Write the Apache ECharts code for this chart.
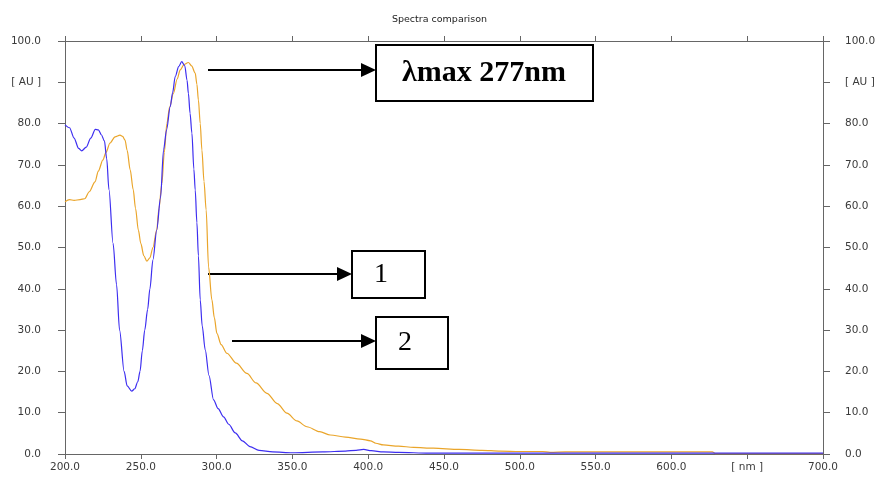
<!DOCTYPE html>
<html>
<head>
<meta charset="utf-8">
<script src="https://cdn.jsdelivr.net/npm/echarts@6/dist/echarts.min.js"></script>
<style>
  html, body { margin: 0; padding: 0; background: #fff; }
  #chart { width: 879px; height: 477px; }
</style>
</head>
<body>
<div id="chart"></div>
<script>
// Absorption spectra, wavelength [nm] vs absorbance [AU]
const blueNm = [200, 203, 206, 209, 211, 214, 217, 220, 222, 224, 226, 227.5, 229, 231.7, 234, 236, 239, 241, 244, 246, 248, 249.5, 251, 252.6, 254.5, 256, 258, 260.5, 263, 265, 267, 269.4, 271, 272.7, 275, 277, 279, 280.5, 281.4, 282.5, 283.7, 285, 285.9, 287, 288, 289.2, 290.5, 292.5, 295, 298, 301, 304.6, 308, 312.3, 317, 322, 328, 337, 350, 370, 385, 392, 397, 402, 410, 420, 440, 470, 500, 550, 600, 650, 700];
const blueAU = [79.7, 79.0, 76.5, 74.0, 73.4, 74.3, 76.5, 78.6, 78.5, 77.3, 75.8, 71.5, 64, 51, 41, 30, 20, 16.5, 15.2, 15.8, 17.5, 20, 25, 30, 35, 40, 47, 54.2, 62, 73.6, 78.5, 84.1, 87.5, 91.4, 93.8, 95.0, 94, 90.5, 87.3, 82.5, 77.7, 69, 63.9, 56, 48, 37.3, 31, 25.2, 19, 13.1, 11, 9.0, 7.2, 5.1, 3.2, 1.8, 0.9, 0.5, 0.3, 0.5, 0.7, 0.9, 1.1, 0.8, 0.5, 0.4, 0.2, 0.2, 0.2, 0.2, 0.2, 0.2, 0.2];

const orangeNm = [200, 203, 206, 210, 213, 216, 219.8, 222, 225, 227, 229.7, 233, 236.3, 238, 239.6, 241, 243, 245, 246.5, 248.4, 250, 252, 254, 256, 258, 260.5, 262, 263.9, 265.5, 267.2, 269, 271.5, 274, 276, 278.5, 281.4, 283.5, 285.9, 287, 288, 289.2, 290.3, 291.7, 293.1, 294.7, 296.9, 298.5, 300.2, 303, 306.8, 313, 320, 326, 333.2, 340, 346.4, 353, 359.6, 368, 375, 385, 395, 401.5, 405, 410, 420, 430, 443, 460, 475, 487, 500, 515, 520, 530, 560, 600, 627, 629, 700];
const orangeAU = [61.1, 61.6, 61.4, 61.6, 61.8, 63.5, 65.9, 68.5, 71.2, 73, 75.3, 76.8, 77.2, 76.9, 76, 73.5, 68.8, 64, 59.5, 54.2, 51, 48, 46.7, 47.5, 50, 54.2, 59.5, 65.5, 73, 80, 84, 87.3, 90.8, 93, 94.3, 94.8, 94, 92.2, 89.5, 85.7, 80, 73.6, 66, 59.1, 45.3, 37.3, 33, 29.2, 26.5, 24.4, 22, 19.5, 17.2, 14.7, 12.2, 9.9, 8, 6.6, 5.4, 4.6, 4.1, 3.6, 3.2, 2.6, 2.2, 1.9, 1.6, 1.4, 1.1, 0.9, 0.7, 0.6, 0.6, 0.4, 0.5, 0.5, 0.5, 0.5, 0.1, 0.1];

// Axis tick labels: unit captions replace one numeric tick on each axis
const xUnitTick = 650, xUnitLabel = '[ nm ]';
const yUnitTick = 90, yUnitLabel = '[ AU ]';

const chart = echarts.init(document.getElementById('chart'));
const axisColor = '#666';
const labelFont = { color: '#3a3a3a', fontFamily: 'DejaVu Sans', fontSize: 10.5 };

function pairs(xs, ys) { return xs.map((x, i) => [x, ys[i]]); }

function arrow(x1, x2, y) {
  return [
    { type: 'line', shape: { x1: x1, y1: y, x2: x2 - 12, y2: y }, style: { stroke: '#000', lineWidth: 2 } },
    { type: 'polygon', shape: { points: [[x2 - 15, y - 7], [x2, y], [x2 - 15, y + 7]] }, style: { fill: '#000' } }
  ];
}
function box(x, y, w, h) {
  return { type: 'rect', shape: { x: x, y: y, width: w, height: h }, style: { fill: '#fff', stroke: '#000', lineWidth: 2 } };
}

chart.setOption({
  animation: false,
  backgroundColor: '#fff',
  title: {
    text: 'Spectra comparison',
    left: 'center', top: 10,
    textStyle: { fontFamily: 'DejaVu Sans', fontSize: 9.5, fontWeight: 'normal', color: '#222' }
  },
  grid: { left: 65, right: 56, top: 41, bottom: 23 },
  xAxis: [
    {
      type: 'value', position: 'bottom', min: 200, max: 700, interval: 50,
      axisLine: { show: true, onZero: false, lineStyle: { color: axisColor, width: 1 } },
      axisTick: { show: true, length: 5, lineStyle: { color: axisColor } },
      axisLabel: Object.assign({ margin: 8, formatter: v => v === xUnitTick ? xUnitLabel : v.toFixed(1) }, labelFont),
      splitLine: { show: false }
    },
    {
      type: 'value', position: 'top', min: 200, max: 700, interval: 50,
      axisLine: { show: true, onZero: false, lineStyle: { color: axisColor, width: 1 } },
      axisTick: { show: true, length: 5, lineStyle: { color: axisColor } },
      axisLabel: { show: false },
      splitLine: { show: false }
    }
  ],
  yAxis: [
    {
      type: 'value', position: 'left', min: 0, max: 100, interval: 10,
      axisLine: { show: true, onZero: false, lineStyle: { color: axisColor, width: 1 } },
      axisTick: { show: true, length: 7, lineStyle: { color: axisColor } },
      axisLabel: Object.assign({ margin: 24, formatter: v => v === yUnitTick ? yUnitLabel : v.toFixed(1) }, labelFont),
      splitLine: { show: false }
    },
    {
      type: 'value', position: 'right', min: 0, max: 100, interval: 10,
      axisLine: { show: true, onZero: false, lineStyle: { color: axisColor, width: 1 } },
      axisTick: { show: true, length: 7, lineStyle: { color: axisColor } },
      axisLabel: Object.assign({ margin: 22, formatter: v => v === yUnitTick ? yUnitLabel : v.toFixed(1) }, labelFont),
      splitLine: { show: false }
    }
  ],
  series: [
    {
      name: 'Spectrum A', type: 'line', xAxisIndex: 0, yAxisIndex: 0,
      data: pairs(orangeNm, orangeAU), showSymbol: false, smooth: 0.3, smoothMonotone: 'x',
      lineStyle: { color: '#eaa52a', width: 1.2 }
    },
    {
      name: 'Spectrum B', type: 'line', xAxisIndex: 0, yAxisIndex: 0,
      data: pairs(blueNm, blueAU), showSymbol: false, smooth: 0.3, smoothMonotone: 'x',
      lineStyle: { color: '#3d2ef0', width: 1.2 }
    }
  ],
  graphic: [].concat(
    arrow(208, 376, 70),
    arrow(208, 352, 274),
    arrow(232, 376, 341),
    [
      box(376, 45, 217, 56),
      { type: 'text', style: { text: 'λmax 277nm', x: 484, y: 73, textAlign: 'center', textVerticalAlign: 'middle',
          font: 'bold 30px "Liberation Serif", "DejaVu Serif", serif', fill: '#000' } },
      box(352, 251, 73, 47),
      { type: 'text', style: { text: '1', x: 381, y: 275, textAlign: 'center', textVerticalAlign: 'middle',
          font: '28px "Liberation Serif", serif', fill: '#000' } },
      box(376, 317, 72, 52),
      { type: 'text', style: { text: '2', x: 405, y: 343, textAlign: 'center', textVerticalAlign: 'middle',
          font: '28px "Liberation Serif", serif', fill: '#000' } }
    ]
  )
});
</script>
</body>
</html>
